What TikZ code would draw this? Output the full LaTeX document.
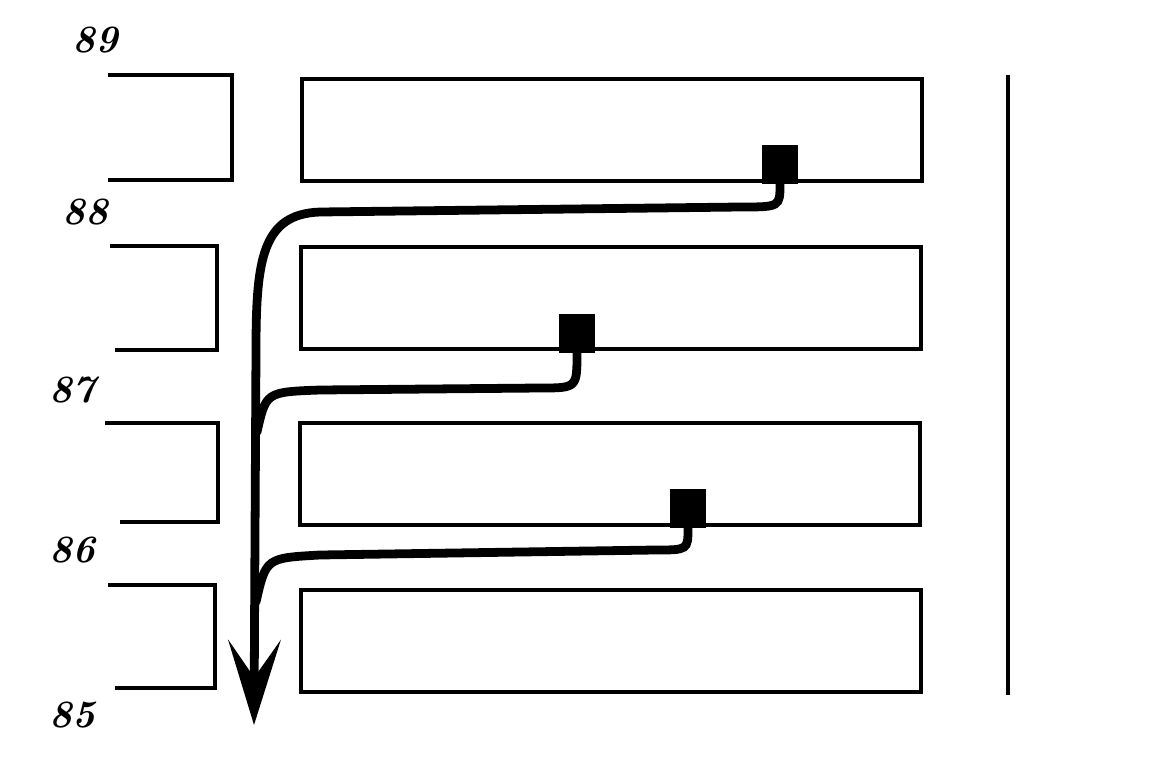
\documentclass[tikz,border=0pt]{standalone}
\usepackage{tikz}
\usetikzlibrary{positioning, arrows.meta, calc}

\begin{document}
\begin{tikzpicture}[x=0.02cm, y=-0.02cm,
        every node/.style={font=\fontsize{22}{26}\selectfont\bfseries\itshape},
        bar/.style={draw, line width=2.4pt, minimum width=12.4cm, minimum height=2.05cm, inner sep=0pt},
        side/.style={line width=2.4pt},
        blk/.style={fill=black, minimum width=0.72cm, minimum height=0.78cm, inner sep=0pt},
        flow/.style={line width=5pt, line cap=round},
        arr/.style={flow, -{Stealth[length=1.7cm, width=1.05cm, inset=0.75cm]}}]
      \useasboundingbox (0,0) rectangle (1160,768);

      % years
      \node (y89) at (95,40) {89};
      \node (y88) at (85,212) {88};
      \node (y87) at (72,390) {87};
      \node (y86) at (72,550) {86};
      \node (y85) at (72,715) {85};

      % left open boxes
      \draw[side] (108,75) -- (232,75) -- (232,180) -- (108,180);
      \draw[side] (110,246) -- (217,246) -- (217,350) -- (115,350);
      \draw[side] (105,423) -- (218,423) -- (218,522) -- (120,522);
      \draw[side] (108,585) -- (215,585) -- (215,688) -- (115,688);

      % long boxes
      \node[bar] (r1) at (612,130) {};
      \node[bar] (r2) at (611,298) {};
      \node[bar] (r3) at (610,474) {};
      \node[bar] (r4) at (611,641) {};

      % right line
      \draw[side] (1008,75) -- (1008,695);

      % blocks
      \node[blk] (b1) at (780,164) {};
      \node[blk] (b2) at (577,333) {};
      \node[blk] (b3) at (688,508) {};

      % flows
      \draw[arr] (b1.south) .. controls (780,207) .. (740,207) -- (320,212)
        .. controls (262,214) and (256,260) .. (256,350) -- (254,725);
      \draw[flow] (b2.south) .. controls (577,388) .. (540,388) -- (320,390)
        .. controls (266,392) .. (257,432);
      \draw[flow] (b3.south) .. controls (688,550) .. (655,550) -- (320,555)
        .. controls (266,558) .. (256,602);
\end{tikzpicture}
\end{document}
